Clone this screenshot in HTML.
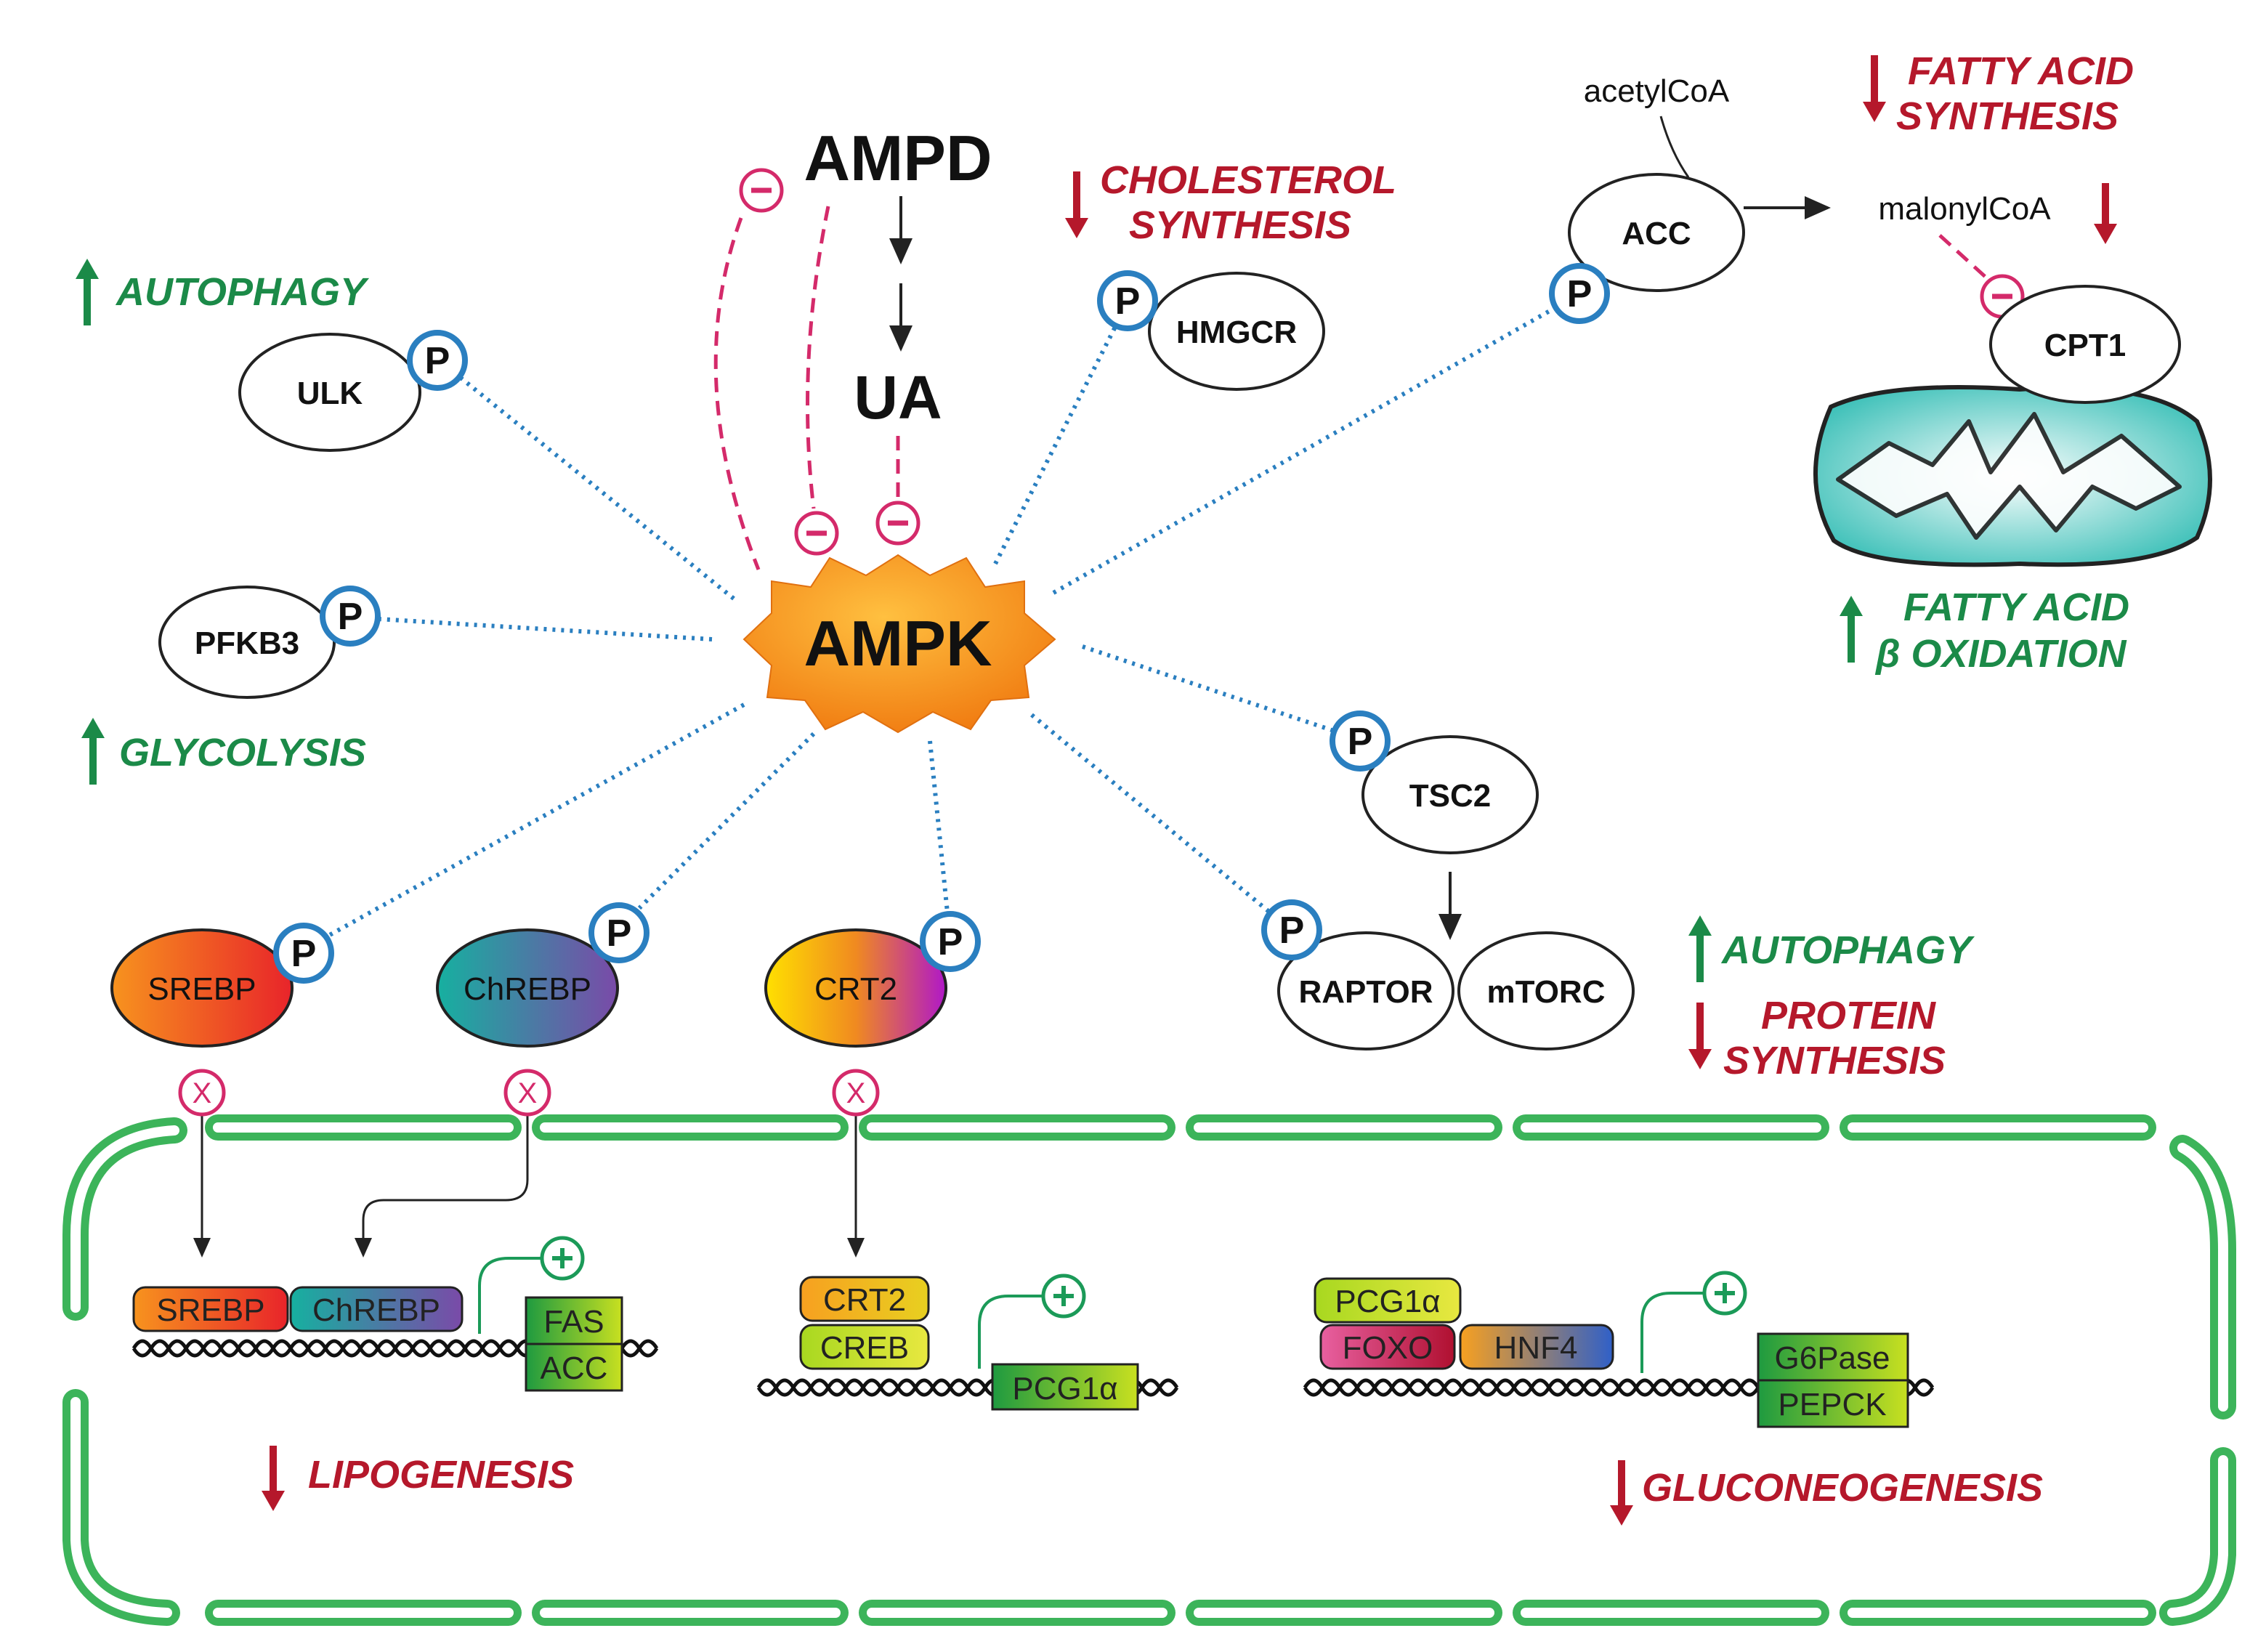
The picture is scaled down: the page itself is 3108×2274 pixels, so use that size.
<!DOCTYPE html>
<html><head><meta charset="utf-8"><style>
html,body{margin:0;padding:0;background:#fff;}
svg{display:block;}
text{font-family:"Liberation Sans",sans-serif;}
.lb{font-size:22px;font-weight:bold;fill:#111;text-anchor:middle;}
.g{font-size:27px;font-weight:bold;font-style:italic;fill:#1b8a48;}
.r{font-size:27px;font-weight:bold;font-style:italic;fill:#b5182b;}
.bx{font-size:22px;fill:#222;text-anchor:middle;}
</style></head><body>
<svg width="3108" height="2274" viewBox="0 0 1554 1137" xmlns="http://www.w3.org/2000/svg">
<defs>
<marker id="ar" markerWidth="10" markerHeight="10" refX="8" refY="5" orient="auto"><path d="M0,1 L9,5 L0,9 z" fill="#222"/></marker>
<radialGradient id="amp" cx="0.45" cy="0.35" r="0.7"><stop offset="0" stop-color="#ffc040"/><stop offset="1" stop-color="#f07a10"/></radialGradient>
<linearGradient id="gs" x1="0" x2="1"><stop offset="0" stop-color="#f7931e"/><stop offset="1" stop-color="#e8242a"/></linearGradient>
<linearGradient id="gc" x1="0" x2="1"><stop offset="0" stop-color="#16b0a0"/><stop offset="1" stop-color="#7a4aa8"/></linearGradient>
<linearGradient id="gt" x1="0" x2="1"><stop offset="0" stop-color="#ffe000"/><stop offset="0.5" stop-color="#f08a20"/><stop offset="1" stop-color="#b018c8"/></linearGradient>
<linearGradient id="gg" x1="0" x2="1"><stop offset="0" stop-color="#1e9a40"/><stop offset="1" stop-color="#c8e020"/></linearGradient>
<linearGradient id="gy" x1="0" x2="1"><stop offset="0" stop-color="#a8d820"/><stop offset="1" stop-color="#e8e840"/></linearGradient>
<linearGradient id="gf" x1="0" x2="1"><stop offset="0" stop-color="#e860a0"/><stop offset="1" stop-color="#b01030"/></linearGradient>
<linearGradient id="gh" x1="0" x2="1"><stop offset="0" stop-color="#f7a020"/><stop offset="1" stop-color="#3060c8"/></linearGradient>
<linearGradient id="gcr" x1="0" x2="1"><stop offset="0" stop-color="#f7a020"/><stop offset="1" stop-color="#e8d020"/></linearGradient>
<radialGradient id="mito" cx="0.5" cy="0.5" r="0.6"><stop offset="0" stop-color="#ffffff"/><stop offset="1" stop-color="#3cc0b8"/></radialGradient>
</defs>

<!-- dotted connectors -->
<g stroke="#2a7fc0" stroke-width="3" stroke-dasharray="2,4" fill="none">
<line x1="505" y1="412" x2="317" y2="260"/>
<line x1="490" y1="440" x2="260" y2="426"/>
<line x1="685" y1="388" x2="768" y2="224"/>
<line x1="725" y1="408" x2="1070" y2="212"/>
<line x1="745" y1="445" x2="918" y2="503"/>
<line x1="710" y1="492" x2="874" y2="628"/>
<line x1="640" y1="510" x2="652" y2="628"/>
<line x1="560" y1="505" x2="440" y2="625"/>
<line x1="512" y1="485" x2="226" y2="644"/>
</g>

<!-- AMPD / UA -->
<text x="618" y="124" font-size="44" font-weight="bold" text-anchor="middle" fill="#111">AMPD</text>
<line x1="620" y1="135" x2="620" y2="180" stroke="#222" stroke-width="2" marker-end="url(#ar)"/>
<line x1="620" y1="195" x2="620" y2="240" stroke="#222" stroke-width="2" marker-end="url(#ar)"/>
<text x="618" y="288" font-size="42" font-weight="bold" text-anchor="middle" fill="#111">UA</text>
<g stroke="#d42a6a" stroke-width="2.5" stroke-dasharray="10,6" fill="none">
<path d="M510,150 Q470,260 522,392"/>
<path d="M570,142 Q548,250 560,350"/>
<line x1="618" y1="300" x2="618" y2="345"/>
<line x1="1335" y1="162" x2="1368" y2="192"/>
</g>
<g fill="#fff" stroke="#d42a6a" stroke-width="2.5">
<circle cx="524" cy="131" r="14"/><circle cx="562" cy="367" r="14"/><circle cx="618" cy="360" r="14"/><circle cx="1378" cy="204" r="14"/>
</g>
<g stroke="#d42a6a" stroke-width="3.5">
<line x1="517" y1="131" x2="531" y2="131"/><line x1="555" y1="367" x2="569" y2="367"/><line x1="611" y1="360" x2="625" y2="360"/><line x1="1371" y1="204" x2="1385" y2="204"/>
</g>

<!-- AMPK star -->
<path d="M618,382 L640,396 L665,384 L678,404 L705,400 L705,422 L726,440 L705,458 L708,480 L682,482 L668,502 L642,490 L618,504 L594,490 L568,502 L554,482 L528,480 L531,458 L512,440 L531,422 L531,400 L558,404 L571,384 L596,396 Z" fill="url(#amp)" stroke="#e07010" stroke-width="1"/>
<text x="618" y="458" font-size="44" font-weight="bold" text-anchor="middle" fill="#111">AMPK</text>

<!-- ellipses -->
<g fill="#fff" stroke="#222" stroke-width="2">
<ellipse cx="227" cy="270" rx="62" ry="40"/>
<ellipse cx="170" cy="442" rx="60" ry="38"/>
<ellipse cx="851" cy="228" rx="60" ry="40"/>
<ellipse cx="1140" cy="160" rx="60" ry="40"/>
<ellipse cx="998" cy="547" rx="60" ry="40"/>
<ellipse cx="940" cy="682" rx="60" ry="40"/>
<ellipse cx="1064" cy="682" rx="60" ry="40"/>
</g>
<!-- mitochondrion -->
<path d="M1260,280 Q1300,262 1390,268 Q1480,262 1512,290 Q1530,330 1512,370 Q1480,392 1390,388 Q1290,392 1262,372 Q1238,330 1260,280 Z" fill="url(#mito)" stroke="#222" stroke-width="3"/>
<path d="M1265,330 L1300,305 L1330,320 L1355,290 L1370,325 L1400,285 L1420,325 L1460,300 L1500,335 L1470,350 L1440,335 L1415,365 L1390,335 L1360,370 L1340,340 L1305,355 Z" fill="#fff" stroke="#222" stroke-width="3" stroke-linejoin="round" opacity="0.9"/>
<ellipse cx="1435" cy="237" rx="65" ry="40" fill="#fff" stroke="#222" stroke-width="2"/>

<ellipse cx="139" cy="680" rx="62" ry="40" fill="url(#gs)" stroke="#222" stroke-width="2"/>
<ellipse cx="363" cy="680" rx="62" ry="40" fill="url(#gc)" stroke="#222" stroke-width="2"/>
<ellipse cx="589" cy="680" rx="62" ry="40" fill="url(#gt)" stroke="#222" stroke-width="2"/>

<text class="lb" x="227" y="278">ULK</text>
<text class="lb" x="170" y="450">PFKB3</text>
<text class="lb" x="851" y="236">HMGCR</text>
<text class="lb" x="1140" y="168">ACC</text>
<text class="lb" x="1435" y="245">CPT1</text>
<text class="lb" x="998" y="555">TSC2</text>
<text class="lb" x="940" y="690">RAPTOR</text>
<text class="lb" x="1064" y="690">mTORC</text>
<text class="lb" x="139" y="688" style="font-weight:normal">SREBP</text>
<text class="lb" x="363" y="688" style="font-weight:normal">ChREBP</text>
<text class="lb" x="589" y="688" style="font-weight:normal">CRT2</text>

<!-- P circles -->
<g fill="#fff" stroke="#2a7fc0" stroke-width="4">
<circle cx="301" cy="248" r="19"/><circle cx="241" cy="424" r="19"/><circle cx="776" cy="207" r="19"/><circle cx="1087" cy="202" r="19"/>
<circle cx="936" cy="510" r="19"/><circle cx="889" cy="640" r="19"/><circle cx="209" cy="656" r="19"/><circle cx="426" cy="642" r="19"/><circle cx="654" cy="648" r="19"/>
</g>
<g font-size="26" font-weight="bold" text-anchor="middle" fill="#111">
<text x="301" y="257">P</text><text x="241" y="433">P</text><text x="776" y="216">P</text><text x="1087" y="211">P</text>
<text x="936" y="519">P</text><text x="889" y="649">P</text><text x="209" y="665">P</text><text x="426" y="651">P</text><text x="654" y="657">P</text>
</g>

<!-- acetylCoA etc -->
<text x="1140" y="70" font-size="22" text-anchor="middle" fill="#111">acetylCoA</text>
<path d="M1143,80 Q1150,105 1162,122" stroke="#222" stroke-width="1.5" fill="none"/>
<line x1="1200" y1="143" x2="1258" y2="143" stroke="#222" stroke-width="2" marker-end="url(#ar)"/>
<text x="1352" y="151" font-size="22" text-anchor="middle" fill="#111">malonylCoA</text>
<line x1="998" y1="600" x2="998" y2="645" stroke="#222" stroke-width="2" marker-end="url(#ar)"/>

<!-- arrows up/down -->
<g stroke-width="5">
<line x1="60" y1="224" x2="60" y2="190" stroke="#1b8a48"/><line x1="64" y1="540" x2="64" y2="506" stroke="#1b8a48"/>
<line x1="1170" y1="676" x2="1170" y2="642" stroke="#1b8a48"/><line x1="1274" y1="456" x2="1274" y2="422" stroke="#1b8a48"/>
<line x1="741" y1="118" x2="741" y2="152" stroke="#b5182b"/><line x1="1290" y1="38" x2="1290" y2="72" stroke="#b5182b"/>
<line x1="1449" y1="126" x2="1449" y2="156" stroke="#b5182b"/><line x1="1170" y1="690" x2="1170" y2="724" stroke="#b5182b"/>
<line x1="188" y1="995" x2="188" y2="1028" stroke="#b5182b"/><line x1="1116" y1="1005" x2="1116" y2="1038" stroke="#b5182b"/>
</g>
<g fill="#1b8a48"><path d="M52,192 L60,178 L68,192Z"/><path d="M56,508 L64,494 L72,508Z"/><path d="M1162,644 L1170,630 L1178,644Z"/><path d="M1266,424 L1274,410 L1282,424Z"/></g>
<g fill="#b5182b"><path d="M733,150 L741,164 L749,150Z"/><path d="M1282,70 L1290,84 L1298,70Z"/><path d="M1441,154 L1449,168 L1457,154Z"/><path d="M1162,722 L1170,736 L1178,722Z"/><path d="M180,1026 L188,1040 L196,1026Z"/><path d="M1108,1036 L1116,1050 L1124,1036Z"/></g>
<text class="g" x="80" y="210">AUTOPHAGY</text>
<text class="g" x="82" y="527">GLYCOLYSIS</text>
<text class="g" x="1185" y="663">AUTOPHAGY</text>
<text class="r" x="1212" y="708">PROTEIN</text><text class="r" x="1186" y="739">SYNTHESIS</text>
<text class="r" x="757" y="133">CHOLESTEROL</text><text class="r" x="777" y="164">SYNTHESIS</text>
<text class="r" x="1313" y="58">FATTY ACID</text><text class="r" x="1305" y="89">SYNTHESIS</text>
<text class="g" x="1310" y="427">FATTY ACID</text><text class="g" x="1291" y="459">β OXIDATION</text>
<text class="r" x="212" y="1024">LIPOGENESIS</text>
<text class="r" x="1130" y="1033">GLUCONEOGENESIS</text>

<!-- membrane -->
<g fill="none" stroke-linecap="round">
<g stroke="#3cb45a" stroke-width="18">
<path d="M150,776H350M375,776H575M600,776H800M825,776H1025M1050,776H1250M1275,776H1475"/>
<path d="M150,1110H350M375,1110H575M600,1110H800M825,1110H1025M1050,1110H1250M1275,1110H1475"/>
<path d="M120,778 Q52,782 52,850 L52,900"/><path d="M52,965 L52,1060 Q54,1108 115,1110"/>
<path d="M1502,790 Q1530,805 1530,860 L1530,968"/><path d="M1530,1005 L1530,1070 Q1528,1108 1495,1110"/>
</g>
<g stroke="#fff" stroke-width="7">
<path d="M150,776H350M375,776H575M600,776H800M825,776H1025M1050,776H1250M1275,776H1475"/>
<path d="M150,1110H350M375,1110H575M600,1110H800M825,1110H1025M1050,1110H1250M1275,1110H1475"/>
<path d="M120,778 Q52,782 52,850 L52,900"/><path d="M52,965 L52,1060 Q54,1108 115,1110"/>
<path d="M1502,790 Q1530,805 1530,860 L1530,968"/><path d="M1530,1005 L1530,1070 Q1528,1108 1495,1110"/>
</g>
</g>

<!-- X circles and arrows -->
<line x1="139" y1="768" x2="139" y2="864" stroke="#222" stroke-width="1.5" marker-end="url(#ar)"/>
<path d="M363,768 L363,812 Q363,826 348,826 L264,826 Q250,826 250,840 L250,864" stroke="#222" stroke-width="1.5" fill="none" marker-end="url(#ar)"/>
<line x1="589" y1="768" x2="589" y2="864" stroke="#222" stroke-width="1.5" marker-end="url(#ar)"/>
<g fill="#fff" stroke="#d42a6a" stroke-width="2.5"><circle cx="139" cy="752" r="15"/><circle cx="363" cy="752" r="15"/><circle cx="589" cy="752" r="15"/></g>
<g font-size="20" fill="#d42a6a" text-anchor="middle"><text x="139" y="759">X</text><text x="363" y="759">X</text><text x="589" y="759">X</text></g>

<!-- DNA -->
<g fill="none" stroke="#111" stroke-width="2.5">
<path id="d1" d="M92,928 q6,-10 12,0 t12,0 t12,0 t12,0 t12,0 t12,0 t12,0 t12,0 t12,0 t12,0 t12,0 t12,0 t12,0 t12,0 t12,0 t12,0 t12,0 t12,0 t12,0 t12,0 t12,0 t12,0 t12,0 t12,0 t12,0 t12,0 t12,0 t12,0 t12,0 t12,0"/>
<path d="M92,928 q6,10 12,0 t12,0 t12,0 t12,0 t12,0 t12,0 t12,0 t12,0 t12,0 t12,0 t12,0 t12,0 t12,0 t12,0 t12,0 t12,0 t12,0 t12,0 t12,0 t12,0 t12,0 t12,0 t12,0 t12,0 t12,0 t12,0 t12,0 t12,0 t12,0 t12,0"/>
<path d="M522,955 q6,-10 12,0 t12,0 t12,0 t12,0 t12,0 t12,0 t12,0 t12,0 t12,0 t12,0 t12,0 t12,0 t12,0 t12,0 t12,0 t12,0 t12,0 t12,0 t12,0 t12,0 t12,0 t12,0 t12,0 t12,0"/>
<path d="M522,955 q6,10 12,0 t12,0 t12,0 t12,0 t12,0 t12,0 t12,0 t12,0 t12,0 t12,0 t12,0 t12,0 t12,0 t12,0 t12,0 t12,0 t12,0 t12,0 t12,0 t12,0 t12,0 t12,0 t12,0 t12,0"/>
<path d="M898,955 q6,-10 12,0 t12,0 t12,0 t12,0 t12,0 t12,0 t12,0 t12,0 t12,0 t12,0 t12,0 t12,0 t12,0 t12,0 t12,0 t12,0 t12,0 t12,0 t12,0 t12,0 t12,0 t12,0 t12,0 t12,0 t12,0 t12,0 t12,0 t12,0 t12,0 t12,0 t12,0 t12,0 t12,0 t12,0 t12,0 t12,0"/>
<path d="M898,955 q6,10 12,0 t12,0 t12,0 t12,0 t12,0 t12,0 t12,0 t12,0 t12,0 t12,0 t12,0 t12,0 t12,0 t12,0 t12,0 t12,0 t12,0 t12,0 t12,0 t12,0 t12,0 t12,0 t12,0 t12,0 t12,0 t12,0 t12,0 t12,0 t12,0 t12,0 t12,0 t12,0 t12,0 t12,0 t12,0 t12,0"/>
</g>

<!-- activation lines -->
<g fill="none" stroke="#1b9a58" stroke-width="2">
<path d="M330,918 L330,885 Q330,866 350,866 L372,866"/>
<path d="M674,942 L674,912 Q674,892 694,892 L717,892"/>
<path d="M1130,945 L1130,910 Q1130,890 1150,890 L1172,890"/>
</g>
<g fill="#fff" stroke="#1b9a58" stroke-width="2.5"><circle cx="387" cy="866" r="14"/><circle cx="732" cy="892" r="14"/><circle cx="1187" cy="890" r="14"/></g>
<g stroke="#1b9a58" stroke-width="3"><path d="M380,866h14M387,859v14M725,892h14M732,885v14M1180,890h14M1187,883v14"/></g>

<!-- boxes -->
<g stroke="#222" stroke-width="1.5">
<rect x="92" y="886" width="106" height="30" rx="8" fill="url(#gs)"/>
<rect x="200" y="886" width="118" height="30" rx="8" fill="url(#gc)"/>
<rect x="362" y="893" width="66" height="32" fill="url(#gg)"/>
<rect x="362" y="925" width="66" height="32" fill="url(#gg)"/>
<rect x="551" y="879" width="88" height="30" rx="8" fill="url(#gcr)"/>
<rect x="551" y="912" width="88" height="30" rx="8" fill="url(#gy)"/>
<rect x="683" y="939" width="100" height="31" fill="url(#gg)"/>
<rect x="905" y="880" width="100" height="30" rx="8" fill="url(#gy)"/>
<rect x="909" y="912" width="92" height="30" rx="8" fill="url(#gf)"/>
<rect x="1005" y="912" width="105" height="30" rx="8" fill="url(#gh)"/>
<rect x="1210" y="918" width="103" height="32" fill="url(#gg)"/>
<rect x="1210" y="950" width="103" height="32" fill="url(#gg)"/>
</g>
<text class="bx" x="145" y="909">SREBP</text>
<text class="bx" x="259" y="909">ChREBP</text>
<text class="bx" x="395" y="917">FAS</text>
<text class="bx" x="395" y="949">ACC</text>
<text class="bx" x="595" y="902">CRT2</text>
<text class="bx" x="595" y="935">CREB</text>
<text class="bx" x="733" y="963">PCG1α</text>
<text class="bx" x="955" y="903">PCG1α</text>
<text class="bx" x="955" y="935">FOXO</text>
<text class="bx" x="1057" y="935">HNF4</text>
<text class="bx" x="1261" y="942">G6Pase</text>
<text class="bx" x="1261" y="974">PEPCK</text>
</svg>
</body></html>
